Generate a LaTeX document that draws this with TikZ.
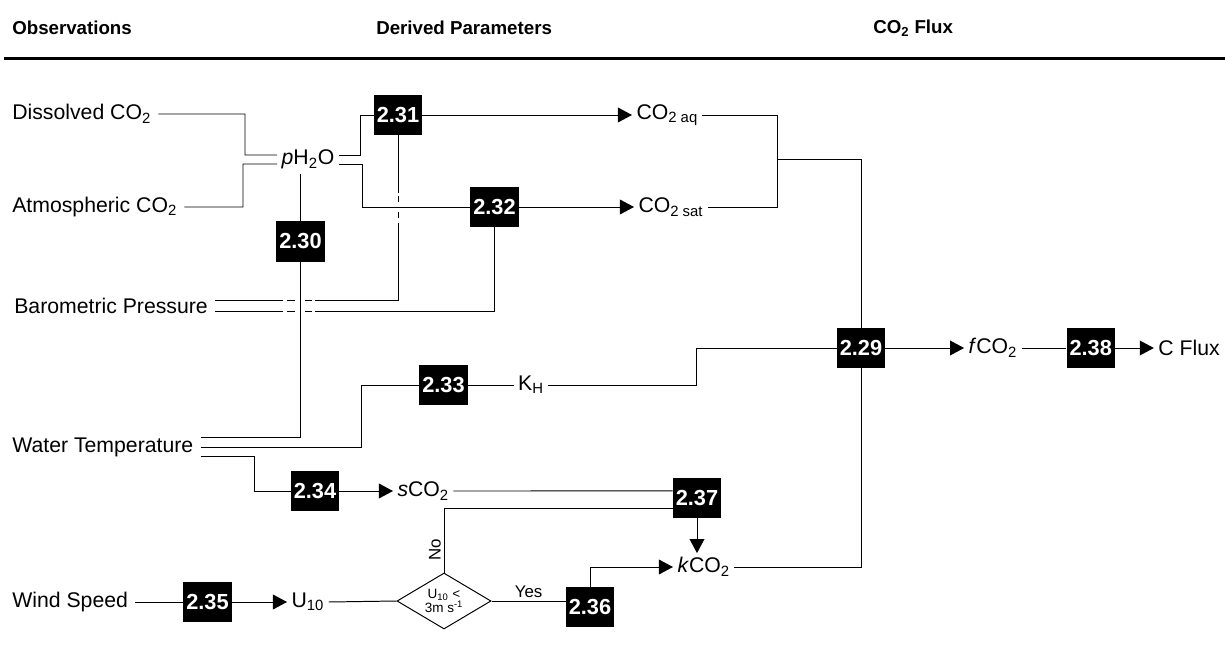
\documentclass[tikz,border=0pt]{standalone}
\usepackage{fontspec}
\setmainfont{Liberation Sans}
\usetikzlibrary{shapes.geometric, arrows.meta, positioning}

\begin{document}
\begin{tikzpicture}[
    x=0.025cm, y=-0.025cm,
    % ── Node styles ──
    hdr/.style={anchor=west, inner sep=0pt,
        font=\bfseries\fontsize{13.3}{16}\selectfont},
    obs/.style={anchor=west, inner xsep=5pt, inner ysep=3pt,
        font=\fontsize{15.1}{18}\selectfont},
    param/.style={inner sep=3pt, font=\fontsize{15.1}{18}\selectfont},
    eqbox/.style={
        rectangle, fill=black, text=white,
        minimum width=1.2cm, minimum height=1cm, inner sep=1pt,
        font=\bfseries\fontsize{15.5}{18}\selectfont
    },
    decision/.style={
        diamond, aspect=1.68, draw=black, line width=0.7pt,
        minimum width=2.35cm, minimum height=1.4cm, inner sep=0pt,
        align=center, font=\fontsize{9.6}{10.5}\selectfont
    },
    tag/.style={font=\fontsize{12}{14}\selectfont, inner sep=2pt},
    % ── Connector styles ──
    link/.style={line width=0.7pt, draw=black},
    arrow/.style={-{Triangle[length=10pt, width=10.5pt]}, line width=0.7pt, draw=black},
    gap/.style={fill=white},
]
\useasboundingbox (0,0) rectangle (1225,650);

% ════════════════════════════════════════════════════════
%  HEADER
% ════════════════════════════════════════════════════════
\node (hobs)  [hdr] at (12,28)  {Observations};
\node (hder)  [hdr] at (376,28) {Derived Parameters};
\node (hflux) [hdr] at (873,28) {CO\textsubscript{2} Flux};
\draw [line width=2.6pt] (4,58.5) -- (1225,58.5);

% ════════════════════════════════════════════════════════
%  OBSERVATIONS
% ════════════════════════════════════════════════════════
\node (dco2)  [obs] at (5,114) {Dissolved CO\textsubscript{2}};
\node (aco2)  [obs] at (5,207) {Atmospheric CO\textsubscript{2}};
\node (baro)  [obs] at (7,306) {Barometric Pressure};
\node (wtemp) [obs] at (5,447) {Water Temperature};
\node (wind)  [obs] at (5,602) {Wind Speed};

% ════════════════════════════════════════════════════════
%  DERIVED PARAMETERS
% ════════════════════════════════════════════════════════
\node (ph2o)   [param] at (308,159.5) {\textit{p}H\textsubscript{2}O};
\node (eq30)   [eqbox] at (300.5,241.5) {2.30};
\node (eq31)   [eqbox] at (398,115) {2.31};
\node (eq32)   [eqbox] at (494.5,207) {2.32};
\node (co2aq)  [param, anchor=west] at (632,115) {CO\textsubscript{2 aq}};
\node (co2sat) [param, anchor=west] at (634,207) {CO\textsubscript{2 sat}};

\node (eq33) [eqbox] at (443.5,385) {2.33};
\node (kh)   [param] at (531,385) {K\textsubscript{H}};

\node (eq34) [eqbox] at (315,491) {2.34};
\node (sco2) [param, anchor=west] at (393,491) {\textit{s}CO\textsubscript{2}};
\node (eq37) [eqbox] at (697,498) {2.37};

\node (eq35) [eqbox] at (207.5,602) {2.35};
\node (u10)  [param, anchor=west] at (287,602) {U\textsubscript{10}};
\node (test) [decision] at (444,601) {U\textsubscript{10} <\\3m s\textsuperscript{-1}};
\node (eq36) [eqbox] at (590,607) {2.36};
\node (kco2) [param, anchor=west] at (673,567) {\textit{k}CO\textsubscript{2}};

% ════════════════════════════════════════════════════════
%  CO2 FLUX
% ════════════════════════════════════════════════════════
\node (eq29)  [eqbox] at (861,348) {2.29};
\node (fco2)  [param, right=1.97cm of eq29] {\textit{f}CO\textsubscript{2}};
\node (eq38)  [eqbox, right=1.12cm of fco2] {2.38};
\node (cflux) [param, right=0.97cm of eq38] {C Flux};

% ════════════════════════════════════════════════════════
%  CONNECTORS
% ════════════════════════════════════════════════════════

% CO2 observations -> pH2O
\draw [link] (dco2.east) -| (245,155) -- ([yshift=3.2pt]ph2o.west);
\draw [link] (aco2.east) -| (243,164) -- ([yshift=-3.2pt]ph2o.west);

% pH2O -> 2.31
\draw [link] ([yshift=3.2pt]ph2o.east) -| (360,115) -- (eq31);
\draw [arrow] (eq31) -- (co2aq.west);

% Barometric pressure -> 2.31 / 2.32
\draw [link] (eq31.south) |- ([yshift=3.6pt]baro.east);
\draw [link] (eq32.south) |- ([yshift=-3.6pt]baro.east);

% line hops where connectors cross
\fill [gap] (394,193) rectangle (401,195.5);
\fill [gap] (394,202) rectangle (401,212);
\fill [gap] (394,218) rectangle (401,223);
\fill [gap] (283,298) rectangle (287,314);
\fill [gap] (295,298) rectangle (305,314);
\fill [gap] (312,298) rectangle (315,314);

% pH2O -> 2.32
\draw [link] ([yshift=-3.2pt]ph2o.east) -| (362,207) -- (eq32);
\draw [arrow] (eq32) -- (co2sat.west);

% pH2O -> 2.30 -> water temperature
\draw [link] (eq30.north) -- (eq30.north |- ph2o.south);
\draw [link] (eq30.south) |- ([yshift=7.1pt]wtemp.east);

% Water temperature -> 2.33 -> K_H -> 2.29
\draw [link] (wtemp.east) -| (361,385) -- (eq33);
\draw [link] (eq33) -- (kh);
\draw [link] (kh.east) -| (696,348) -- (eq29);

% Water temperature -> 2.34 -> sCO2 -> 2.37
\draw [link] ([yshift=-7.1pt]wtemp.east) -| (254,491) -- (eq34);
\draw [arrow] (eq34) -- (sco2.west);
\draw [link] (sco2.east) -- ([yshift=5pt]eq37.west);

% Wind speed -> 2.35 -> U10 -> test
\draw [link] (wind.east) -- (eq35);
\draw [arrow] (eq35) -- (u10.west);
\draw [link] (u10.east) -- (test.west);
\draw [link] (test.north) |- node[tag, pos=0.18, above, rotate=90] {No}
    ([yshift=-7.8pt]eq37.west);
\draw [link] (test.east) -- node[tag, above] {Yes} (eq36.west |- test.east);

% -> kCO2
\draw [arrow] (eq37.south) -- (eq37.south |- kco2.north);
\draw [arrow] (eq36.north) |- (kco2.west);

% Parameters -> 2.29
\coordinate (aqsat) at (777,159);
\draw [link] (co2aq.east) -| (aqsat);
\draw [link] (co2sat.east) -| (aqsat) -| (eq29.north);
\draw [link] (kco2.east) -| (eq29.south);

% 2.29 -> fCO2 -> 2.38 -> C flux
\draw [arrow] (eq29) -- (fco2.west);
\draw [link] (fco2.east) -- (eq38);
\draw [arrow] (eq38) -- (cflux.west);

\end{tikzpicture}
\end{document}
